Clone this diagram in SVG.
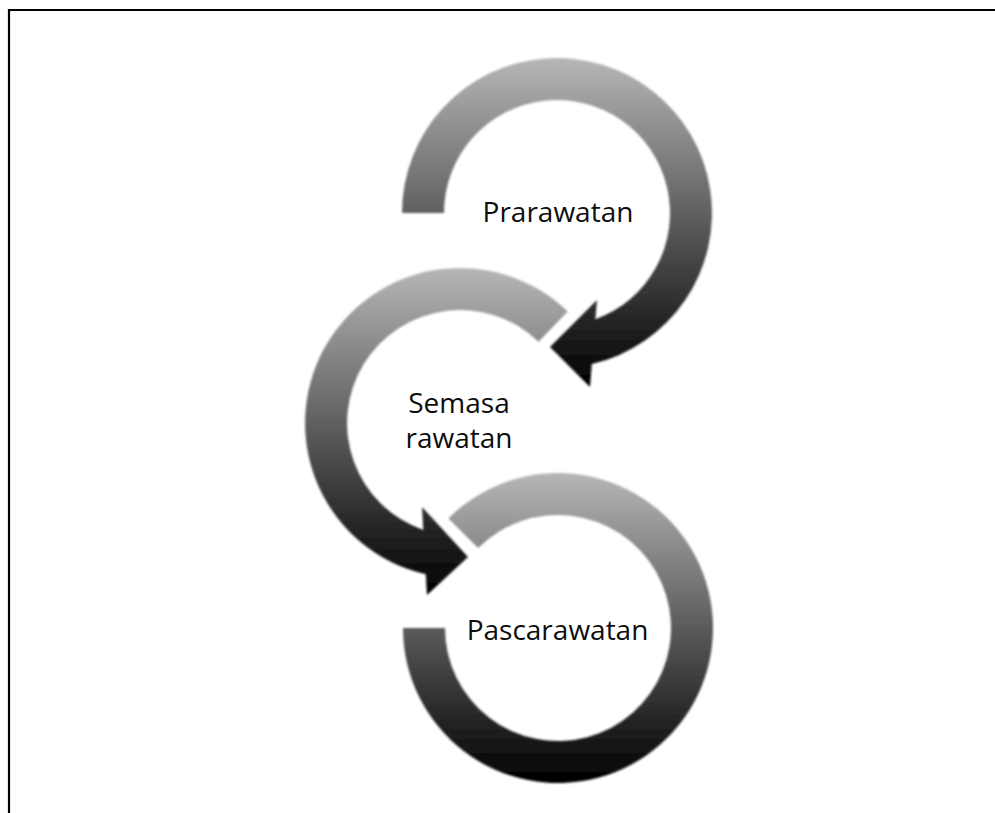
<svg xmlns="http://www.w3.org/2000/svg" width="995" height="813" viewBox="0 0 995 813">
  <defs>
    <linearGradient id="g" x1="0" y1="0" x2="0" y2="1">
      <stop offset="0" stop-color="#b6b6b6"/>
      <stop offset="1" stop-color="#000000"/>
    </linearGradient>
    <filter id="soft" x="-5%" y="-5%" width="110%" height="110%">
      <feGaussianBlur stdDeviation="0.8"/>
    </filter>
  </defs>
  <style>
    .arrow { fill: url(#g); filter: url(#soft); }
    .lbl { font-family: "Open Sans", "Noto Sans", sans-serif; font-size: 28px; fill: #0d0d0d; text-anchor: middle; }
    .frame { stroke: #000; stroke-width: 2.2; fill: none; }
  </style>
  <rect width="995" height="813" fill="#ffffff"/>
  <g id="frame">
    <line class="frame" x1="8" y1="10" x2="995" y2="10"/>
    <line class="frame" x1="9" y1="9" x2="9" y2="813"/>
  </g>
  <g id="connectors"/>
  <g id="prarawatan">
    <path class="arrow" d="M 402 213 A 155 155 0 1 1 591.8 364 L 590 387 L 550 347 L 597 300 L 595.4 319.3 A 113 113 0 1 0 444 213 Z"/>
    <text class="lbl" x="558" y="222">Prarawatan</text>
  </g>
  <g id="semasa-rawatan">
    <path class="arrow" d="M 567.7 311.5 A 155 155 0 1 0 425.8 574.2 L 427 595 L 468 557 L 422 507 L 423.3 529.9 A 113 113 0 1 1 538.5 341.7 Z"/>
    <text class="lbl" x="459" y="413">Semasa</text>
    <text class="lbl" x="459" y="448">rawatan</text>
  </g>
  <g id="pascarawatan">
    <path class="arrow" d="M 448.4 518.4 A 155 155 0 1 1 403 628 L 445 628 A 113 113 0 1 0 478.1 548.1 Z"/>
    <text class="lbl" x="557.5" y="640">Pascarawatan</text>
  </g>
</svg>
